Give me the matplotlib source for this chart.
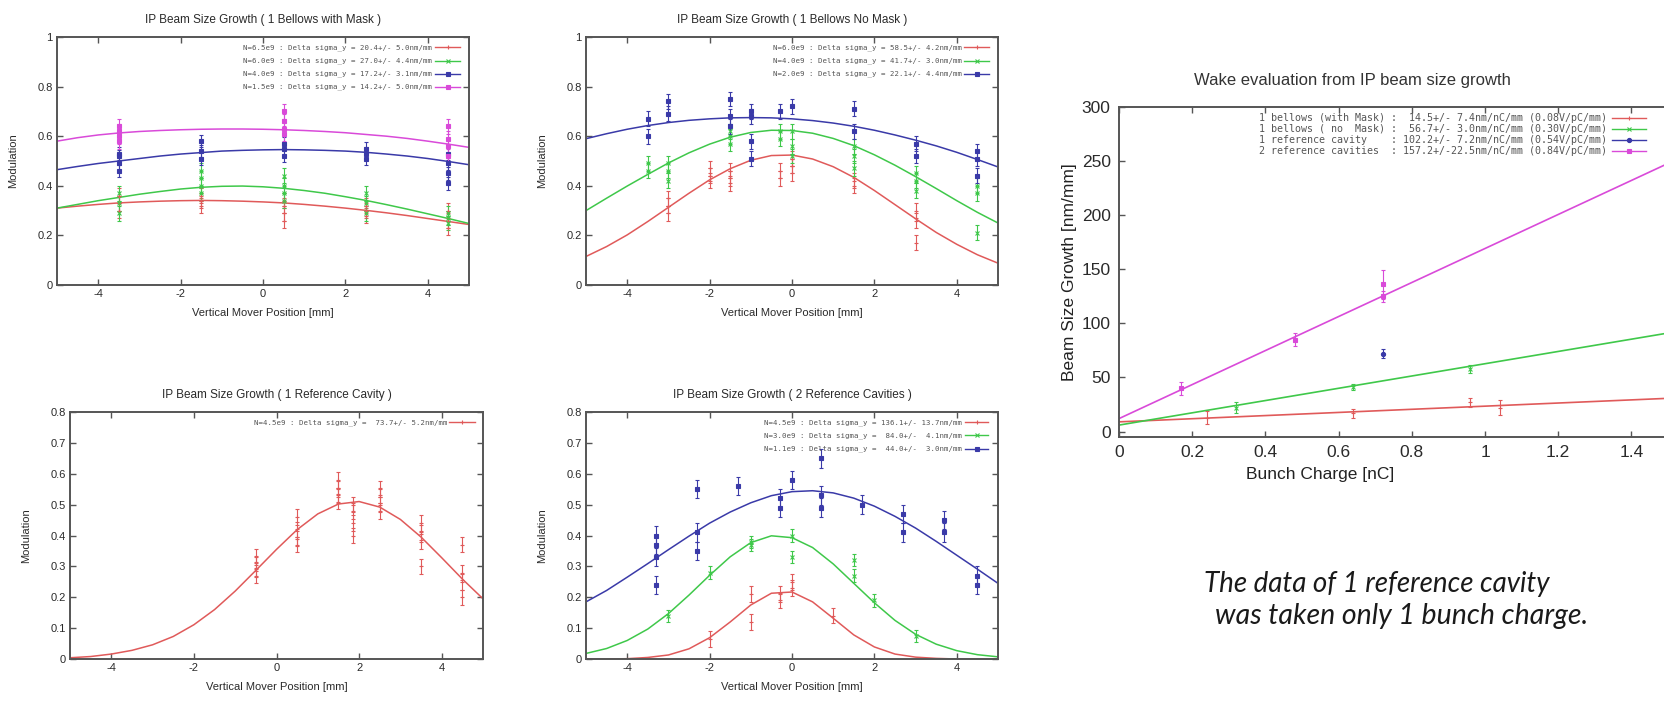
import matplotlib
matplotlib.use('Agg')
import matplotlib.pyplot as plt

plt.rcParams['font.family'] = ['Liberation Sans', 'DejaVu Sans']
plt.rcParams['axes.unicode_minus'] = False  # gnuplot prints a plain hyphen

# fit curves are sampled on this grid (mm)
X_FIT = [-5.0, -4.5, -4.0, -3.5, -3.0, -2.5, -2.0, -1.5, -1.0, -0.5, 0.0,
         0.5, 1.0, 1.5, 2.0, 2.5, 3.0, 3.5, 4.0, 4.5, 5.0]

# ---- 1 bellows with mask
a_fit_red = [0.310, 0.318, 0.325, 0.331, 0.335, 0.338, 0.340, 0.341, 0.340, 0.338, 0.335,
             0.331, 0.325, 0.318, 0.310, 0.301, 0.291, 0.280, 0.268, 0.256, 0.244]
a_fit_green = [0.310, 0.325, 0.340, 0.353, 0.366, 0.377, 0.387, 0.394, 0.398, 0.399, 0.396,
               0.390, 0.381, 0.370, 0.356, 0.341, 0.324, 0.306, 0.287, 0.268, 0.248]
a_fit_blue = [0.465, 0.478, 0.490, 0.500, 0.510, 0.520, 0.528, 0.534, 0.540, 0.543, 0.545,
              0.546, 0.545, 0.543, 0.540, 0.535, 0.528, 0.520, 0.510, 0.498, 0.485]
a_fit_mag = [0.580, 0.594, 0.605, 0.613, 0.619, 0.623, 0.626, 0.628, 0.629, 0.629, 0.628,
             0.626, 0.623, 0.619, 0.614, 0.607, 0.600, 0.591, 0.580, 0.568, 0.555]
a_red_x = [-3.5, -3.5, -3.5, -1.5, -1.5, -1.5, 0.5, 0.5, 0.5, 0.5, 2.5, 2.5, 2.5, 4.5, 4.5, 4.5]
a_red_y = [0.30, 0.33, 0.36, 0.32, 0.34, 0.36, 0.26, 0.29, 0.32, 0.34, 0.28, 0.30, 0.32, 0.23, 0.26, 0.30]
a_green_x = [-3.5, -3.5, -3.5, -1.5, -1.5, -1.5, -1.5, 0.5, 0.5, 0.5, 0.5, 2.5, 2.5, 2.5, 4.5, 4.5, 4.5]
a_green_y = [0.29, 0.33, 0.37, 0.37, 0.40, 0.43, 0.46, 0.34, 0.37, 0.40, 0.44, 0.29, 0.33, 0.37, 0.25, 0.27, 0.29]
a_blue_x = [-3.5, -3.5, -3.5, -3.5, -1.5, -1.5, -1.5, 0.5, 0.5, 0.5, 2.5, 2.5, 2.5, 4.5, 4.5, 4.5, 4.5]
a_blue_y = [0.46, 0.49, 0.52, 0.53, 0.51, 0.54, 0.58, 0.52, 0.55, 0.57, 0.51, 0.53, 0.55, 0.41, 0.45, 0.49, 0.53]
a_mag_x = [-3.5, -3.5, -3.5, -3.5, 0.5, 0.5, 0.5, 0.5, 4.5, 4.5, 4.5, 4.5]
a_mag_y = [0.58, 0.60, 0.62, 0.64, 0.61, 0.63, 0.66, 0.70, 0.52, 0.56, 0.59, 0.64]
a_keys = ["N=6.5e9 : Delta sigma_y = 20.4+/- 5.0nm/mm",
          "N=6.0e9 : Delta sigma_y = 27.0+/- 4.4nm/mm",
          "N=4.0e9 : Delta sigma_y = 17.2+/- 3.1nm/mm",
          "N=1.5e9 : Delta sigma_y = 14.2+/- 5.0nm/mm"]

# ---- 1 bellows no mask
b_fit_red = [0.115, 0.155, 0.202, 0.256, 0.313, 0.370, 0.424, 0.469, 0.503, 0.522, 0.524,
             0.508, 0.477, 0.434, 0.381, 0.324, 0.267, 0.212, 0.164, 0.122, 0.088]
b_fit_green = [0.300, 0.350, 0.399, 0.446, 0.492, 0.533, 0.568, 0.596, 0.615, 0.624, 0.623,
               0.612, 0.591, 0.562, 0.525, 0.483, 0.437, 0.389, 0.340, 0.293, 0.250]
b_fit_blue = [0.590, 0.610, 0.628, 0.643, 0.655, 0.664, 0.670, 0.674, 0.675, 0.674, 0.670,
              0.663, 0.653, 0.640, 0.624, 0.605, 0.584, 0.561, 0.535, 0.506, 0.476]
b_red_x = [-3, -3, -3, -2, -2, -2, -1.5, -1.5, -1.5, -0.3, -0.3, 0, 0, 0, 1.5, 1.5, 3, 3, 3]
b_red_y = [0.29, 0.32, 0.35, 0.42, 0.44, 0.47, 0.41, 0.43, 0.46, 0.43, 0.46, 0.45, 0.48, 0.51,
           0.40, 0.42, 0.17, 0.26, 0.30]
b_green_x = [-3.5, -3.5, -3, -3, -3, -1.5, -1.5, -1.5, -0.3, -0.3, 0, 0, 0, 1.5, 1.5, 1.5,
             3, 3, 3, 4.5, 4.5, 4.5]
b_green_y = [0.46, 0.49, 0.42, 0.46, 0.49, 0.57, 0.60, 0.62, 0.59, 0.62, 0.52, 0.56, 0.62,
             0.47, 0.52, 0.56, 0.38, 0.42, 0.45, 0.21, 0.37, 0.40]
b_blue_x = [-3.5, -3.5, -3, -3, -1.5, -1.5, -1.5, -1, -1, -1, -1, -0.3, 0, 1.5, 1.5, 3, 3,
            4.5, 4.5, 4.5]
b_blue_y = [0.60, 0.67, 0.69, 0.74, 0.64, 0.68, 0.75, 0.51, 0.58, 0.68, 0.70, 0.70, 0.72,
            0.62, 0.71, 0.52, 0.57, 0.44, 0.51, 0.54]
b_keys = ["N=6.0e9 : Delta sigma_y = 58.5+/- 4.2nm/mm",
          "N=4.0e9 : Delta sigma_y = 41.7+/- 3.0nm/mm",
          "N=2.0e9 : Delta sigma_y = 22.1+/- 4.4nm/mm"]

# ---- 1 reference cavity
c_fit_red = [0.004, 0.008, 0.016, 0.028, 0.046, 0.073, 0.111, 0.160, 0.220, 0.287, 0.355,
             0.419, 0.470, 0.502, 0.510, 0.492, 0.452, 0.395, 0.328, 0.259, 0.195]
c_red_x = [-0.5, -0.5, -0.5, -0.5, 0.5, 0.5, 0.5, 0.5, 1.5, 1.5, 1.5, 1.5, 1.85, 1.85, 1.85, 1.85,
           2.5, 2.5, 2.5, 2.5, 3.5, 3.5, 3.5, 3.5, 4.5, 4.5, 4.5, 4.5]
c_red_y = [0.27, 0.29, 0.31, 0.33, 0.37, 0.39, 0.42, 0.46, 0.51, 0.53, 0.55, 0.58, 0.40, 0.44, 0.48, 0.50,
           0.48, 0.50, 0.53, 0.55, 0.30, 0.38, 0.41, 0.44, 0.20, 0.25, 0.28, 0.37]
c_keys = ["N=4.5e9 : Delta sigma_y =  73.7+/- 5.2nm/mm"]

# ---- 2 reference cavities
d_fit_red = [0.000, 0.000, 0.001, 0.005, 0.013, 0.033, 0.069, 0.120, 0.175, 0.213, 0.217,
             0.185, 0.132, 0.078, 0.039, 0.016, 0.006, 0.002, 0.000, 0.000, 0.000]
d_fit_green = [0.018, 0.034, 0.060, 0.097, 0.147, 0.207, 0.271, 0.331, 0.377, 0.399, 0.393,
               0.361, 0.308, 0.245, 0.182, 0.125, 0.080, 0.048, 0.027, 0.014, 0.007]
d_fit_blue = [0.185, 0.222, 0.265, 0.309, 0.354, 0.398, 0.440, 0.476, 0.506, 0.529, 0.542,
              0.545, 0.538, 0.521, 0.495, 0.462, 0.424, 0.381, 0.336, 0.291, 0.245]
d_red_x = [-2, -1, -1, -0.3, -0.3, 0, 0, 1]
d_red_y = [0.065, 0.12, 0.21, 0.19, 0.21, 0.23, 0.25, 0.14]
d_green_x = [-3, -2, -1, -1, 0, 0, 1.5, 1.5, 2, 3]
d_green_y = [0.14, 0.28, 0.37, 0.38, 0.33, 0.40, 0.27, 0.32, 0.19, 0.075]
d_blue_x = [-3.3, -3.3, -3.3, -3.3, -2.3, -2.3, -2.3, -1.3, -0.3, -0.3, 0, 0.7, 0.7, 0.7,
            1.7, 2.7, 2.7, 3.7, 3.7, 4.5, 4.5]
d_blue_y = [0.24, 0.33, 0.37, 0.40, 0.35, 0.41, 0.55, 0.56, 0.49, 0.52, 0.58, 0.49, 0.53, 0.65,
            0.50, 0.41, 0.47, 0.41, 0.45, 0.24, 0.27]
d_keys = ["N=4.5e9 : Delta sigma_y = 136.1+/- 13.7nm/mm",
          "N=3.0e9 : Delta sigma_y =  84.0+/-  4.1nm/mm",
          "N=1.1e9 : Delta sigma_y =  44.0+/-  3.0nm/mm"]

# ---- wake vs bunch charge
q_fit = [0.0, 1.8]
w_fit_red = [9.0, 35.1]
w_fit_green = [6.0, 108.1]
w_fit_mag = [12.0, 295.0]
w_red_q = [0.24, 0.64, 0.96, 1.04]
w_red_y = [13, 17, 27, 22]
w_red_e = [6, 4, 4, 7]
w_green_q = [0.32, 0.64, 0.96]
w_green_y = [22, 41, 58]
w_green_e = [5, 3, 4]
w_blue_q = [0.72]
w_blue_y = [72]
w_blue_e = [4]
w_mag_q = [0.17, 0.48, 0.72, 0.72]
w_mag_y = [40, 85, 136, 125]
w_mag_e = [6, 6, 13, 5]
w_keys = ["1 bellows (with Mask) :  14.5+/- 7.4nm/nC/mm (0.08V/pC/mm)",
          "1 bellows ( no  Mask) :  56.7+/- 3.0nm/nC/mm (0.30V/pC/mm)",
          "1 reference cavity    : 102.2+/- 7.2nm/nC/mm (0.54V/pC/mm)",
          "2 reference cavities  : 157.2+/-22.5nm/nC/mm (0.84V/pC/mm)"]

RED, GREEN, BLUE, MAG = '#e05a5a', '#3fc84a', '#3a3aa8', '#d94ad9'
FRAME = '#555555'
W, H = 1664, 701

fig = plt.figure(figsize=(W / 100, H / 100), dpi=100)


def box(l, t, r, b):
    # pixel box -> figure fraction
    return [l / W, 1 - b / H, (r - l) / W, (b - t) / H]


def frame(ax, fs):
    for s in ax.spines.values():
        s.set_color(FRAME)
        s.set_linewidth(1.4)
    ax.tick_params(direction='in', top=True, right=True, length=4, width=1,
                   color=FRAME, labelsize=fs, labelcolor='#2a2a2a', pad=3)


def key(ax, rows, y0, dy, xr, s0, s1, fs):
    # gnuplot style key: text right aligned, sample line on the right
    for i, (txt, col, mk) in enumerate(rows):
        y = y0 - i * dy
        ax.text(xr, y, txt, transform=ax.transAxes, ha='right', va='center',
                family='DejaVu Sans Mono', fontsize=fs, color='#555555')
        ax.plot([s0, s1], [y, y], transform=ax.transAxes, color=col, lw=1, clip_on=False)
        ax.plot([(s0 + s1) / 2], [y], transform=ax.transAxes, marker=mk, color=col,
                ms=3, mew=0.8, clip_on=False)


def pts(ax, x, y, err, col, mk):
    ax.errorbar(x, y, yerr=err, fmt=mk, color=col, ms=3, mew=0.8, elinewidth=0.8,
                capsize=1.2, capthick=0.7, lw=0)


def modulation_panel(rect, title, ymax, fits, series, keys, key_right, key_s0, key_s1):
    ax = fig.add_axes(rect)
    ax.set_xlim(-5, 5)
    ax.set_ylim(0, ymax)
    ax.set_xticks([-4, -2, 0, 2, 4])
    if ymax == 1:
        yt = [0, 0.2, 0.4, 0.6, 0.8, 1]
    else:
        yt = [0, 0.1, 0.2, 0.3, 0.4, 0.5, 0.6, 0.7, 0.8]
    ax.set_yticks(yt)
    ax.set_yticklabels(['%g' % v for v in yt])
    for vals, col in fits:
        ax.plot(X_FIT, vals, color=col, lw=1.1)
    for x, y, err, col, mk in series:
        pts(ax, x, y, err, col, mk)
    frame(ax, 8)
    ax.set_title(title, fontsize=8.5, color='#2a2a2a', pad=10)
    ax.set_xlabel('Vertical Mover Position [mm]', fontsize=8, color='#2a2a2a', labelpad=6)
    ax.set_ylabel('Modulation', fontsize=8, color='#2a2a2a')
    ax.yaxis.set_label_coords(-0.095, 0.5)
    rows = [(k, s[3], s[4]) for k, s in zip(keys, series)]
    key(ax, rows, 0.958, 0.053, key_right, key_s0, key_s1, 5.3)
    return ax


modulation_panel(box(57, 37, 469, 285), 'IP Beam Size Growth ( 1 Bellows with Mask )', 1,
                 [(a_fit_red, RED), (a_fit_green, GREEN), (a_fit_blue, BLUE), (a_fit_mag, MAG)],
                 [(a_red_x, a_red_y, 0.03, RED, '+'), (a_green_x, a_green_y, 0.03, GREEN, 'x'),
                  (a_blue_x, a_blue_y, 0.025, BLUE, 's'), (a_mag_x, a_mag_y, 0.03, MAG, 's')],
                 a_keys, 0.91, 0.918, 0.978)

modulation_panel(box(586, 37, 998, 285), 'IP Beam Size Growth ( 1 Bellows No Mask )', 1,
                 [(b_fit_red, RED), (b_fit_green, GREEN), (b_fit_blue, BLUE)],
                 [(b_red_x, b_red_y, 0.03, RED, '+'), (b_green_x, b_green_y, 0.03, GREEN, 'x'),
                  (b_blue_x, b_blue_y, 0.03, BLUE, 's')],
                 b_keys, 0.913, 0.918, 0.978)

modulation_panel(box(70, 412, 483, 659), 'IP Beam Size Growth ( 1 Reference Cavity )', 0.8,
                 [(c_fit_red, RED)],
                 [(c_red_x, c_red_y, 0.025, RED, '+')],
                 c_keys, 0.913, 0.918, 0.98)

modulation_panel(box(586, 412, 998, 659), 'IP Beam Size Growth ( 2 Reference Cavities )', 0.8,
                 [(d_fit_red, RED), (d_fit_green, GREEN), (d_fit_blue, BLUE)],
                 [(d_red_x, d_red_y, 0.025, RED, '+'), (d_green_x, d_green_y, 0.02, GREEN, 'x'),
                  (d_blue_x, d_blue_y, 0.03, BLUE, 's')],
                 d_keys, 0.913, 0.92, 0.976)

# ---- wake panel, its right part is cut off by the slide edge
ax = fig.add_axes(box(1119, 107, 1119 + 1.8 * 366, 437))
ax.set_xlim(0, 1.8)
ax.set_ylim(-5, 300)
ax.set_xticks([0, 0.2, 0.4, 0.6, 0.8, 1.0, 1.2, 1.4])
ax.set_xticklabels(['0', '0.2', '0.4', '0.6', '0.8', '1', '1.2', '1.4'])
ax.set_yticks([0, 50, 100, 150, 200, 250, 300])
ax.plot(q_fit, w_fit_red, color=RED, lw=1.2)
ax.plot(q_fit, w_fit_green, color=GREEN, lw=1.2)
ax.plot(q_fit, w_fit_mag, color=MAG, lw=1.2)
pts(ax, w_red_q, w_red_y, w_red_e, RED, '+')
pts(ax, w_green_q, w_green_y, w_green_e, GREEN, 'x')
pts(ax, w_blue_q, w_blue_y, w_blue_e, BLUE, 'o')
pts(ax, w_mag_q, w_mag_y, w_mag_e, MAG, 's')
frame(ax, 12.5)
ax.tick_params(pad=6)
ax.set_ylabel('Beam Size Growth [nm/mm]', fontsize=12.5, color='#222222', labelpad=3)
key(ax, [(w_keys[0], RED, '+'), (w_keys[1], GREEN, 'x'), (w_keys[2], BLUE, 'o'),
         (w_keys[3], MAG, 's')], 0.968, 0.034, 0.74, 0.748, 0.80, 7.2)

fig.text(1352 / W, 1 - 80 / H, 'Wake evaluation from IP beam size growth', ha='center',
         va='center', fontsize=12, color='#333333')
fig.text(1320 / W, 1 - 475 / H, 'Bunch Charge [nC]', ha='center', va='center',
         fontsize=12.5, color='#222222')

fig.text(1204 / W, 1 - 584 / H, 'The data of 1 reference cavity', ha='left', va='center',
         fontsize=20, style='italic', family=['Lato', 'DejaVu Sans'], color='#1a1a1a')
fig.text(1215 / W, 1 - 616 / H, 'was taken only 1 bunch charge.', ha='left', va='center',
         fontsize=20.5, style='italic', family=['Lato', 'DejaVu Sans'], color='#1a1a1a')

fig.savefig('out.png', dpi=100)
